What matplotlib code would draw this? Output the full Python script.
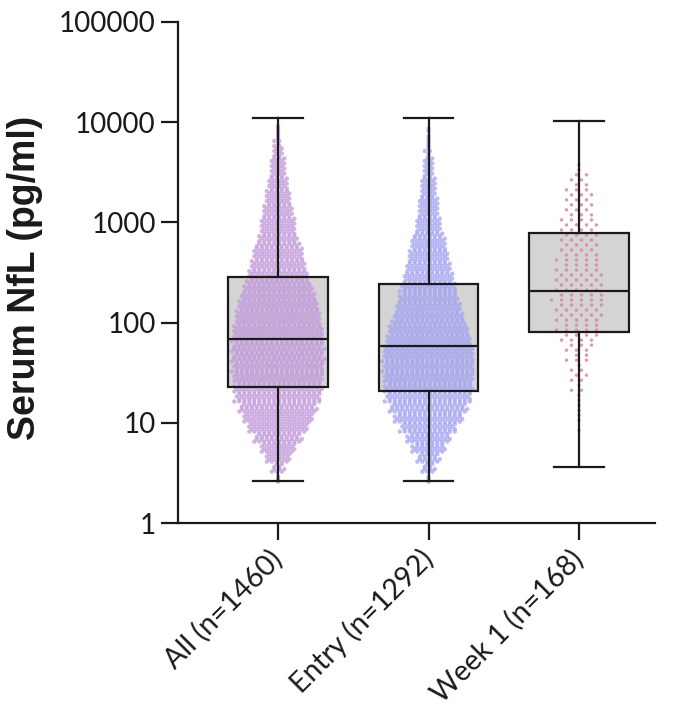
import numpy as np
import matplotlib
matplotlib.use('Agg')
import matplotlib.pyplot as plt
from matplotlib.ticker import FixedLocator, NullLocator

# ---------------- data ----------------
groups = ['All (n=1460)', 'Entry (n=1292)', 'Week 1 (n=168)']
# box-and-whisker statistics (pg/ml)
whislo = [2.6, 2.6, 3.6]
q1 = [23, 21, 81]
med = [68, 58, 205]
q3 = [282, 245, 780]
whishi = [11000, 11000, 10200]

# counts of points per 0.1-decade bin (read from the dot clouds)
bin_width = 0.1
all_bin_start = 0.4
all_counts = [3, 10, 20, 28, 38, 48, 56, 62, 69, 71, 72, 73, 74, 74, 73, 71,
              68, 65, 61, 55, 49, 45, 41, 38, 31, 28, 26, 23, 20, 17, 14, 12,
              10, 7, 5, 3]
entry_bin_start = 0.4
entry_counts = [3, 10, 18, 27, 35, 45, 55, 62, 69, 71, 72, 73, 73, 71, 67, 63,
                57, 52, 47, 45, 40, 36, 32, 29, 26, 20, 18, 16, 14, 12, 10, 8,
                6, 5, 3, 2]
week1_bin_start = 0.9
week1_counts = [1, 2, 2, 2, 3, 4, 3, 5, 6, 8, 9, 10, 10, 11, 10, 10, 9, 9, 8,
                8, 8, 7, 6, 6, 5, 4, 2]

yticks = [1, 10, 100, 1000, 10000, 100000]
ytick_labels = ['1', '10', '100', '1000', '10000', '100000']

# ---------------- figure ----------------
fig = plt.figure(figsize=(6.76, 7.13), dpi=100)
ax = fig.add_axes([178/676, (713-523)/713, 477/676, 501/713])
ax.set_yscale('log')
ax.set_ylim(1, 100000)
ax.set_xlim(0.335, 3.505)

positions = [1, 2, 3]
stats = []
for i in range(3):
    stats.append(dict(whislo=whislo[i], q1=q1[i], med=med[i], q3=q3[i],
                      whishi=whishi[i], fliers=[], label=groups[i]))

# box fill underneath the points
ax.bxp(stats, positions=positions, widths=0.66, patch_artist=True,
       showfliers=False,
       boxprops=dict(facecolor='#d4d4d4', edgecolor='none', linewidth=0),
       medianprops=dict(linewidth=0), whiskerprops=dict(linewidth=0),
       capprops=dict(linewidth=0), zorder=1)


def layout(counts, start, center, nsub, dx):
    xs, ys = [], []
    for b, n in enumerate(counts):
        lo = start + b * bin_width
        base, extra = divmod(n, nsub)
        for j in range(nsub):
            m = base + (1 if j < extra else 0)
            if m == 0:
                continue
            y = 10 ** (lo + (j + 0.5) * bin_width / nsub)
            stagger = (0.25 if j % 2 else -0.25) * dx if (m > 1 and nsub > 1) else 0
            for k in range(m):
                xs.append(center + (k - (m - 1) / 2) * dx + stagger)
                ys.append(y)
    return np.array(xs), np.array(ys)


px = 1 / 150.5
x, y = layout(all_counts, all_bin_start, 1, 4, 5 * px)
ax.scatter(x, y, s=10, color='#c39bdc', alpha=0.75, edgecolors='none', zorder=2)
x, y = layout(entry_counts, entry_bin_start, 2, 4, 5 * px)
ax.scatter(x, y, s=10, color='#a5a5f2', alpha=0.75, edgecolors='none', zorder=2)
x, y = layout(week1_counts, week1_bin_start, 3, 2, 10 * px)
ax.scatter(x, y, s=6, color='#d8899b', alpha=0.85, edgecolors='none', zorder=2)

# box outlines on top
ax.bxp(stats, positions=positions, widths=0.66, patch_artist=True,
       showfliers=False,
       boxprops=dict(facecolor='none', edgecolor='#1a1a1a', linewidth=1.6),
       medianprops=dict(color='#1a1a1a', linewidth=1.6),
       whiskerprops=dict(color='#1a1a1a', linewidth=1.6),
       capprops=dict(color='#1a1a1a', linewidth=1.6), zorder=3)

# axes styling
for s in ['top', 'right']:
    ax.spines[s].set_visible(False)
for s in ['left', 'bottom']:
    ax.spines[s].set_linewidth(1.6)
    ax.spines[s].set_color('#1a1a1a')

ax.yaxis.set_major_locator(FixedLocator(yticks))
ax.yaxis.set_minor_locator(NullLocator())
ax.set_yticklabels(ytick_labels)
ax.set_xticks(positions)
ax.set_xticklabels(groups)
ax.tick_params(axis='both', which='major', length=12, width=1.6,
               color='#1a1a1a', labelsize=20, labelcolor='#1a1a1a', pad=4)
ax.tick_params(axis='x', pad=11, labelsize=20.5)
for lab in ax.get_yticklabels() + ax.get_xticklabels():
    lab.set_family('Lato')
for lab in ax.get_xticklabels():
    lab.set_rotation(45)
    lab.set_ha('right')
    lab.set_va('center')
    lab.set_rotation_mode('anchor')

ax.set_ylabel('Serum NfL (pg/ml)', fontsize=27, fontweight='bold',
              family='Liberation Sans', color='#1a1a1a')
ax.yaxis.set_label_coords(-0.283, 0.489)

fig.savefig('out.png', dpi=100)
